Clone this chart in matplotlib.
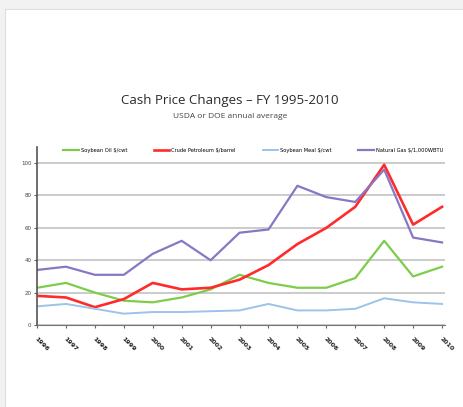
import matplotlib
matplotlib.use("Agg")
import matplotlib.pyplot as plt
from matplotlib.patches import Rectangle

# Data (annual averages)
years = list(range(1996, 2011))
soybean_oil = [23, 26, 20, 15, 14, 17, 22, 31, 26, 23, 23, 29, 52, 30, 36]
crude = [18, 17, 11, 16, 26, 22, 23, 28, 37, 50, 60, 73, 99, 62, 73]
soybean_meal = [11.5, 13, 10, 7, 8, 8, 8.5, 9, 13, 9, 9, 10, 16.5, 14, 13]
natural_gas = [34, 36, 31, 31, 44, 52, 40, 57, 59, 86, 79, 76, 96, 54, 51]
tick_labels = [str(y) for y in years]

fig = plt.figure(figsize=(4.63, 4.07), dpi=100)
fig.patch.set_facecolor("#f2f2f2")
page = Rectangle((5 / 463, 0), 1, 1 - 9 / 407, transform=fig.transFigure,
                 facecolor="white", edgecolor="#dddddd", lw=0.8, zorder=-10)
fig.add_artist(page)

ax = fig.add_axes([0.080, 0.2015, 0.881, 0.4375])
ax.set_facecolor("none")
ax.set_zorder(5)

ax.plot(years, soybean_oil, color="#7dcc4a", lw=1.6, label="Soybean Oil $/cwt")
ax.plot(years, crude, color="#ff2a2a", lw=1.9, label="Crude Petroleum $/barrel")
ax.plot(years, soybean_meal, color="#9cc3ea", lw=1.4, label="Soybean Meal $/cwt")
ax.plot(years, natural_gas, color="#8877c4", lw=1.6, label="Natural Gas $/1,000WBTU")

ax.set_xlim(1996, 2010.1)
ax.set_ylim(0, 110)
ax.set_yticks(range(0, 101, 20))
ax.set_yticklabels([str(v) for v in range(0, 101, 20)], fontsize=4, color="#444444")
ax.set_xticks(years)
ax.set_xticklabels(tick_labels, rotation=-45, ha="left", va="top",
                   rotation_mode="anchor", fontsize=4.5, fontweight="bold", color="#222222")
ax.tick_params(axis="x", length=2, pad=6, color="#666666")
ax.tick_params(axis="y", length=2, pad=2, color="#666666")

ax.grid(axis="y", color="#bdbdbd", lw=1.1)
ax.set_axisbelow(True)
for side in ["top", "right"]:
    ax.spines[side].set_visible(False)
ax.spines["left"].set_color("#555555")
ax.spines["bottom"].set_color("#777777")
ax.spines["left"].set_linewidth(1.2)

ax.legend(loc="upper center", bbox_to_anchor=(0.53, 1.02), ncol=4, fontsize=3.7,
          frameon=False, handlelength=3, columnspacing=5.2, handletextpad=0.4)

fig.text(0.497, 0.754, "Cash Price Changes \u2013 FY 1995-2010", ha="center", va="center",
         fontsize=9.5, color="#2a2a2a", family="Open Sans")
fig.text(0.497, 0.714, "USDA or DOE annual average", ha="center", va="center",
         fontsize=6, color="#444444", family="Open Sans")

plt.savefig("out.png", dpi=100)
